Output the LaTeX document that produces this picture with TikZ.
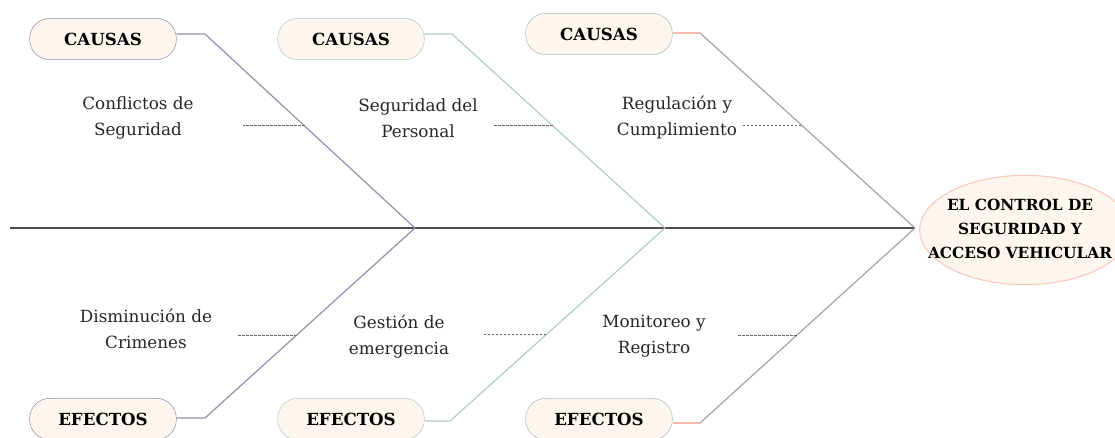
\documentclass[tikz,border=0pt]{standalone}
\usepackage{fontspec}
\setmainfont{DejaVu Serif}
\usetikzlibrary{positioning, shapes.geometric, calc}

\definecolor{crema}{HTML}{FDF6EE}
\definecolor{lila}{HTML}{9A8CAE}
\definecolor{verdegris}{HTML}{B3CBC7}
\definecolor{gris}{HTML}{A3A3A3}
\definecolor{rosa}{HTML}{F6B9AE}

\begin{document}
\begin{tikzpicture}[x=0.75pt, y=-0.75pt,
		caja/.style={rounded corners=15pt, draw, fill=crema, minimum width=110pt, minimum height=31pt, font=\fontsize{12.5}{15}\selectfont\bfseries},
		lbl/.style={align=center, font=\fontsize{12.6}{19.5}\selectfont, text=black!85},
		hueso/.style={line width=0.9pt},
		guion/.style={dashed, dash pattern=on 2pt off 1pt, black!60, line width=0.7pt}]
	\useasboundingbox (0,0) rectangle (1115,437);

	% cabeza y espina
	\node[ellipse, draw=rosa!80, fill=crema, line width=0.8pt, inner sep=0pt, minimum width=158pt, minimum height=82pt] (cabeza) at (1025,230) {};
	\node[align=center, inner sep=1pt, font=\fontsize{11.5}{18}\selectfont\bfseries] (efecto) at (1020,229) {EL CONTROL DE\\SEGURIDAD Y\\ACCESO VEHICULAR};
	\coordinate (cola) at (10,228);
	\coordinate (j1) at (415,228);
	\coordinate (j2) at (665,228);
	\coordinate (j3) at (915,228);
	\draw[line width=0.9pt, black!70] (cola) -- (j3);

	% cajas de arriba
	\node[caja, draw=lila] (c1) at (103,39) {CAUSAS};
	\node[caja, draw=verdegris] (c2) at (351,39) {CAUSAS};
	\node[caja, draw=verdegris!80!gray] (c3) at (599,34) {CAUSAS};

	% cajas de abajo
	\node[caja, draw=lila] (e1) at (103,419) {EFECTOS};
	\node[caja, draw=verdegris] (e2) at (351,419) {EFECTOS};
	\node[caja, draw=verdegris!80!gray] (e3) at (599,419) {EFECTOS};

	\coordinate (q1) at (205,34);
	\coordinate (q2) at (452,34);
	\coordinate (q3) at (700,33);
	\coordinate (p1) at (205,418);
	\coordinate (p2) at (450,421);
	\coordinate (p3) at (700,423);

	\draw[hueso, lila] (c1.east |- q1) -- (q1) -- (j1);
	\draw[hueso, verdegris] (c2.east |- q2) -- (q2) -- (j2);
	\draw[hueso, rosa] (c3.east |- q3) -- (q3);
	\draw[hueso, gris] (q3) -- (j3);
	\draw[hueso, lila] (e1.east |- p1) -- (p1) -- (j1);
	\draw[hueso, verdegris] (e2.east |- p2) -- (p2) -- (j2);
	\draw[hueso, rosa] (e3.east |- p3) -- (p3);
	\draw[hueso, gris] (p3) -- (j3);

	% subcausas
	\node[lbl] (s1) at (138,118) {Conflictos de\\Seguridad};
	\node[lbl] (s2) at (418,118) {Seguridad del\\Personal};
	\node[lbl] (s3) at (677,118) {Regulación y\\Cumplimiento};
	\node[lbl] (t1) at (146,329) {Disminución de\\Crimenes};
	\node[lbl] (t2) at (399,337) {Gestión de\\emergencia};
	\node[lbl] (t3) at (654,336) {Monitoreo y\\Registro};

	\coordinate (a1) at ($(q1)!0.474!(j1)$);
	\coordinate (a2) at ($(q2)!0.474!(j2)$);
	\coordinate (a3) at ($(q3)!0.472!(j3)$);
	\coordinate (b1) at ($(p1)!0.437!(j1)$);
	\coordinate (b2) at ($(p2)!0.448!(j2)$);
	\coordinate (b3) at ($(p3)!0.451!(j3)$);

	\draw[guion] (a1) -- ++(-62,0);
	\draw[guion] (a2) -- ++(-60,0);
	\draw[guion] (a3) -- ++(-60,0);
	\draw[guion] (b1) -- ++(-60,0);
	\draw[guion] (b2) -- ++(-62,0);
	\draw[guion] (b3) -- ++(-60,0);
\end{tikzpicture}
\end{document}
